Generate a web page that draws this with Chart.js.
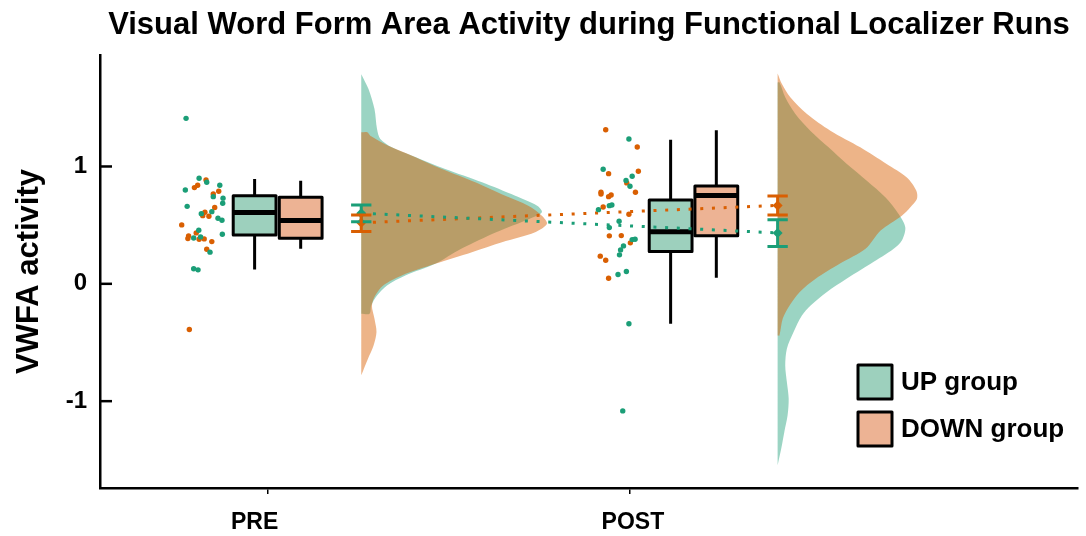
<!DOCTYPE html>
<html>
<head>
<meta charset="utf-8">
<script src="https://cdn.jsdelivr.net/npm/chart.js@4.4.1/dist/chart.umd.min.js"></script>
<style>
  html, body { margin: 0; padding: 0; background: #fff; }
  #wrap { width: 1086px; height: 536px; }
</style>
</head>
<body>
<div id="wrap"><canvas id="chart"></canvas></div>
<script>
const TIMES = ['PRE', 'POST'];
const GROUPS = ['UP group', 'DOWN group'];
const Y_TICKS = [-1, 0, 1];

// subject values (dots) and their horizontal jitter
const UP_PRE = [1.41, 0.90, 0.865, 0.80, 0.84, 0.743, 0.73, 0.687, 0.66, 0.615, 0.598, 0.559, 0.542, 0.457, 0.391, 0.40, 0.423, 0.27, 0.128, 0.119];
const UP_PRE_JIT = [-0.045, -0.009, 0.012, -0.047, 0.048, 0.030, 0.057, 0.056, -0.042, 0.026, -0.003, 0.043, 0.054, -0.010, -0.024, -0.005, 0.055, 0.021, -0.024, -0.012];
const DOWN_PRE = [0.885, 0.82, 0.84, 0.789, 0.766, 0.65, 0.61, 0.581, 0.576, 0.502, 0.434, 0.409, 0.386, 0.38, 0.383, 0.36, 0.295, -0.389];
const DOWN_PRE_JIT = [0.010, -0.022, -0.013, 0.045, 0.030, 0.034, 0.007, 0.001, 0.018, -0.057, -0.017, -0.038, -0.040, -0.009, 0.005, 0.026, 0.012, -0.036];
const UP_POST = [1.234, 0.976, 0.917, 0.88, 0.831, 0.632, 0.666, 0.672, 0.533, 0.479, 0.323, 0.289, 0.247, 0.377, 0.38, 0.105, 0.079, -0.34, -1.083];
const UP_POST_JIT = [0.030, -0.041, 0.039, 0.022, 0.033, -0.054, -0.024, -0.017, 0.003, -0.024, 0.015, 0.007, 0.004, 0.039, 0.047, 0.023, 0.000, 0.030, 0.013];
const DOWN_POST = [1.313, 1.166, 0.939, 0.959, 0.86, 0.78, 0.78, 0.766, 0.743, 0.757, 0.655, 0.593, 0.409, 0.411, 0.349, 0.236, 0.201, 0.048];
const DOWN_POST_JIT = [-0.034, 0.053, -0.026, 0.056, 0.024, 0.048, -0.047, -0.047, -0.026, -0.019, -0.041, 0.030, -0.024, 0.009, 0.034, -0.049, -0.034, -0.026];

// box stats per time: [low whisker, q1, median, q3, high whisker]
const UP_BOX = [[0.122, 0.417, 0.607, 0.750, 0.894], [-0.34, 0.275, 0.443, 0.715, 1.228]];
const DOWN_BOX = [[0.298, 0.389, 0.539, 0.738, 0.879], [0.051, 0.409, 0.752, 0.834, 1.308]];

// group means and error bar ends
const UP_MEAN = [0.602, 0.434];
const UP_ERR = [[0.530, 0.672], [0.318, 0.545]];
const DOWN_MEAN = [0.520, 0.668];
const DOWN_ERR = [[0.445, 0.587], [0.587, 0.749]];

// half-violin densities: [value, density]
const UP_PRE_DENS = [[1.787, 0], [1.660, 0.040], [1.489, 0.073], [1.319, 0.087], [1.234, 0.105], [1.163, 0.169], [1.092, 0.280], [0.979, 0.463], [0.866, 0.666], [0.751, 0.849], [0.666, 0.970], [0.610, 0.996], [0.553, 0.926], [0.440, 0.744], [0.298, 0.551], [0.170, 0.408], [0.071, 0.243], [-0.014, 0.142], [-0.100, 0.087], [-0.185, 0.055], [-0.255, 0.046], [-0.255, 0]];
const DOWN_PRE_DENS = [[1.291, 0], [1.291, 0.033], [1.262, 0.050], [1.177, 0.149], [1.092, 0.280], [0.979, 0.445], [0.866, 0.629], [0.751, 0.794], [0.666, 0.921], [0.581, 0.996], [0.511, 1.024], [0.440, 0.959], [0.355, 0.776], [0.270, 0.610], [0.170, 0.408], [0.071, 0.224], [-0.014, 0.121], [-0.100, 0.077], [-0.185, 0.059], [-0.298, 0.073], [-0.411, 0.084], [-0.525, 0.068], [-0.638, 0.037], [-0.780, 0]];
const UP_POST_DENS = [[1.716, 0], [1.716, 0.011], [1.589, 0.042], [1.447, 0.098], [1.305, 0.180], [1.163, 0.281], [1.021, 0.382], [0.879, 0.492], [0.738, 0.594], [0.596, 0.667], [0.483, 0.704], [0.369, 0.685], [0.298, 0.640], [0.170, 0.513], [0.043, 0.380], [-0.071, 0.270], [-0.185, 0.182], [-0.270, 0.134], [-0.411, 0.088], [-0.553, 0.051], [-0.695, 0.042], [-0.837, 0.051], [-0.979, 0.061], [-1.121, 0.055], [-1.262, 0.037], [-1.404, 0.020], [-1.546, 0]];
const DOWN_POST_DENS = [[1.793, 0], [1.702, 0.024], [1.589, 0.070], [1.447, 0.162], [1.305, 0.291], [1.163, 0.456], [1.021, 0.601], [0.908, 0.711], [0.794, 0.765], [0.723, 0.768], [0.653, 0.732], [0.581, 0.685], [0.454, 0.568], [0.298, 0.485], [0.170, 0.342], [0.043, 0.210], [-0.071, 0.121], [-0.185, 0.066], [-0.298, 0.028], [-0.440, 0.01], [-0.440, 0]];

// layout (x units: PRE tick = 1, POST tick = 2)
const POS = {
    pts: [0.821, 1.967],
    boxUp: [0.965, 2.112],
    boxDown: [1.092, 2.238],
    mean: [1.259, 2.407],
    label: [0.965, 2.008]
};
const BOX_HALF = 0.059;
const CAP_HALF = 0.028;
const VIOLIN_W = 0.5;

const GREEN = '#1b9e77';
const ORANGE = '#d95f02';
const GREEN_FILL = 'rgba(27,158,119,0.44)';
const ORANGE_FILL = 'rgba(217,95,2,0.47)';
const GREEN_BOX = '#9dd0bd';
const ORANGE_BOX = '#edb394';
const FONT = "'Liberation Sans', Arial, sans-serif";

function dots(vals, jit, t) {
    return vals.map((v, i) => ({ x: POS.pts[t] + jit[i], y: v }));
}

function violin(dens, t) {
    return dens.map(([v, d]) => ({ x: POS.mean[t] + d * VIOLIN_W, y: v }));
}

function violinSet(dens, t, fill, order) {
    return {
        data: violin(dens, t),
        showLine: true,
        fill: 'shape',
        backgroundColor: fill,
        borderColor: 'transparent',
        borderWidth: 0,
        pointRadius: 0,
        tension: 0.3,
        order: order
    };
}

function dotSet(vals, jit, t, color) {
    return {
        data: dots(vals, jit, t),
        backgroundColor: color,
        borderWidth: 0,
        pointRadius: 2.7,
        order: 3
    };
}

function meanLine(means, color) {
    return {
        data: means.map((m, t) => ({ x: POS.mean[t], y: m })),
        showLine: true,
        borderColor: color,
        borderWidth: 3,
        borderDash: [3, 8.7],
        pointRadius: 0,
        order: 4
    };
}

function meanPts(means, color) {
    return {
        data: means.map((m, t) => ({ x: POS.mean[t], y: m })),
        pointStyle: 'rectRot',
        pointRadius: 5,
        backgroundColor: color,
        borderWidth: 0,
        order: 1
    };
}

const rainPlugin = {
    id: 'rain',
    beforeDatasetsDraw(chart) {
        const { ctx, scales: { x, y } } = chart;
        ctx.save();
        [[UP_BOX, POS.boxUp, GREEN_BOX], [DOWN_BOX, POS.boxDown, ORANGE_BOX]].forEach(([stats, xs, fill]) => {
            stats.forEach((s, t) => {
                const [lo, q1, med, q3, hi] = s;
                const x0 = x.getPixelForValue(xs[t] - BOX_HALF);
                const x1 = x.getPixelForValue(xs[t] + BOX_HALF);
                const xc = x.getPixelForValue(xs[t]);
                const top = y.getPixelForValue(q3);
                const bot = y.getPixelForValue(q1);
                ctx.strokeStyle = '#000';
                ctx.lineWidth = 3;
                ctx.beginPath();
                ctx.moveTo(xc, y.getPixelForValue(hi));
                ctx.lineTo(xc, top);
                ctx.moveTo(xc, bot);
                ctx.lineTo(xc, y.getPixelForValue(lo));
                ctx.stroke();
                ctx.fillStyle = fill;
                ctx.fillRect(x0, top, x1 - x0, bot - top);
                ctx.lineJoin = 'round';
                ctx.strokeRect(x0, top, x1 - x0, bot - top);
                const ym = y.getPixelForValue(med);
                ctx.lineWidth = 5;
                ctx.beginPath();
                ctx.moveTo(x0, ym);
                ctx.lineTo(x1, ym);
                ctx.stroke();
            });
        });
        ctx.restore();
    },
    afterDatasetsDraw(chart) {
        const { ctx, chartArea, scales: { x, y } } = chart;
        ctx.save();
        // error bars
        [[UP_ERR, GREEN], [DOWN_ERR, ORANGE]].forEach(([errs, color]) => {
            errs.forEach((e, t) => {
                const xc = x.getPixelForValue(POS.mean[t]);
                const xa = x.getPixelForValue(POS.mean[t] - CAP_HALF);
                const xb = x.getPixelForValue(POS.mean[t] + CAP_HALF);
                const ya = y.getPixelForValue(e[0]);
                const yb = y.getPixelForValue(e[1]);
                ctx.strokeStyle = color;
                ctx.lineWidth = 3;
                ctx.beginPath();
                ctx.moveTo(xc, ya); ctx.lineTo(xc, yb);
                ctx.moveTo(xa, ya); ctx.lineTo(xb, ya);
                ctx.moveTo(xa, yb); ctx.lineTo(xb, yb);
                ctx.stroke();
            });
        });
        // inward ticks on the y axis
        ctx.strokeStyle = '#000';
        ctx.lineWidth = 2.5;
        Y_TICKS.forEach(v => {
            const py = y.getPixelForValue(v);
            ctx.beginPath();
            ctx.moveTo(chartArea.left, py);
            ctx.lineTo(chartArea.left + 12, py);
            ctx.stroke();
        });
        ctx.restore();
    },
    afterDraw(chart) {
        const { ctx, chartArea, scales: { x } } = chart;
        ctx.save();
        // time labels under the axis
        ctx.fillStyle = '#000';
        ctx.font = 'bold 23px ' + FONT;
        ctx.textAlign = 'center';
        ctx.textBaseline = 'middle';
        TIMES.forEach((t, i) => {
            ctx.fillText(t, x.getPixelForValue(POS.label[i]), chartArea.bottom + 35);
        });
        // legend
        const lx = chartArea.right - 220;
        const ly = chartArea.bottom - 123;
        ctx.textAlign = 'left';
        [[GROUPS[0], GREEN_BOX], [GROUPS[1], ORANGE_BOX]].forEach(([label, fill], i) => {
            const top = ly + i * 47;
            ctx.fillStyle = fill;
            ctx.fillRect(lx, top, 34, 34);
            ctx.strokeStyle = '#000';
            ctx.lineWidth = 3;
            ctx.lineJoin = 'round';
            ctx.strokeRect(lx, top, 34, 34);
            ctx.fillStyle = '#000';
            ctx.font = 'bold 26px ' + FONT;
            ctx.fillText(label, lx + 43, top + 18);
        });
        ctx.restore();
    }
};

new Chart(document.getElementById('chart'), {
    type: 'scatter',
    data: {
        datasets: [
            violinSet(UP_PRE_DENS, 0, GREEN_FILL, 8),
            violinSet(UP_POST_DENS, 1, GREEN_FILL, 8),
            violinSet(DOWN_PRE_DENS, 0, ORANGE_FILL, 7),
            violinSet(DOWN_POST_DENS, 1, ORANGE_FILL, 7),
            meanLine(UP_MEAN, GREEN),
            meanLine(DOWN_MEAN, ORANGE),
            dotSet(UP_PRE, UP_PRE_JIT, 0, GREEN),
            dotSet(DOWN_PRE, DOWN_PRE_JIT, 0, ORANGE),
            dotSet(UP_POST, UP_POST_JIT, 1, GREEN),
            dotSet(DOWN_POST, DOWN_POST_JIT, 1, ORANGE),
            meanPts(UP_MEAN, GREEN),
            meanPts(DOWN_MEAN, ORANGE)
        ]
    },
    options: {
        responsive: true,
        maintainAspectRatio: false,
        animation: false,
        layout: { padding: { top: 0, right: 8, bottom: 0, left: 0 } },
        plugins: {
            legend: { display: false },
            tooltip: { enabled: false },
            title: {
                display: true,
                text: 'Visual Word Form Area Activity during Functional Localizer Runs',
                fullSize: false,
                color: '#000',
                font: { family: FONT, size: 31, weight: 'bold' },
                padding: { top: 7, bottom: 10.8 }
            }
        },
        scales: {
            x: {
                type: 'linear',
                min: 0.5387,
                max: 3.2352,
                afterFit: s => { s.height = 48; },
                afterBuildTicks: s => { s.ticks = TIMES.map((_, i) => ({ value: i + 1 })); },
                grid: { display: true, drawOnChartArea: false, drawTicks: true, tickLength: 6, color: '#000', lineWidth: 1.5 },
                border: { display: true, color: '#000', width: 2.5 },
                ticks: { display: false }
            },
            y: {
                min: -1.74,
                max: 1.95,
                afterFit: s => { s.width = 100; },
                afterBuildTicks: s => { s.ticks = Y_TICKS.map(v => ({ value: v })); },
                grid: { display: false, drawTicks: false },
                border: { display: true, color: '#000', width: 2.5 },
                ticks: {
                    color: '#000',
                    padding: 13,
                    font: { family: FONT, size: 24, weight: 'bold' }
                },
                title: {
                    display: true,
                    text: 'VWFA activity',
                    color: '#000',
                    padding: { top: 11, bottom: 0 },
                    font: { family: FONT, size: 31, weight: 'bold' }
                }
            }
        }
    },
    plugins: [rainPlugin]
});
</script>
</body>
</html>
